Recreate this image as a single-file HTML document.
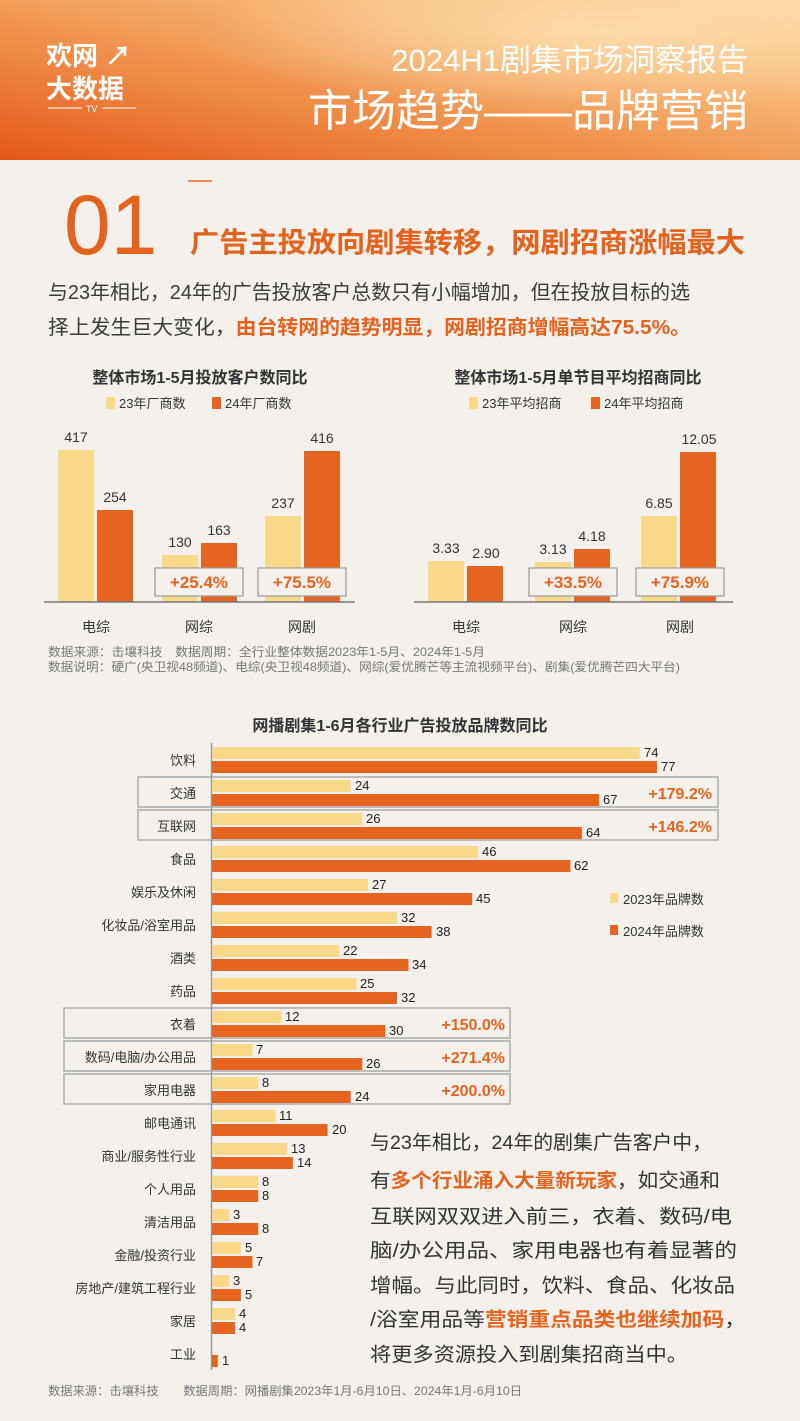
<!DOCTYPE html>
<html><head><meta charset="utf-8"><style>
html,body{margin:0;padding:0;background:#f4f0eb;}
svg{display:block;font-family:"Liberation Sans","Noto Sans CJK SC",sans-serif;}
</style></head><body>
<svg width="800" height="1421" viewBox="0 0 800 1421" xmlns="http://www.w3.org/2000/svg">
<defs>
<linearGradient id="hg" x1="0" y1="1" x2="1" y2="0">
<stop offset="0" stop-color="#e4571c"/><stop offset="0.35" stop-color="#ee8a45"/><stop offset="0.7" stop-color="#f7b674"/><stop offset="1" stop-color="#fbd6a0"/>
</linearGradient>
<radialGradient id="hl" cx="0.75" cy="0.2" r="0.5"><stop offset="0" stop-color="#fde3b5" stop-opacity="0.8"/><stop offset="1" stop-color="#fde3b5" stop-opacity="0"/></radialGradient>
</defs>
<rect width="800" height="1421" fill="#f4f0eb"/>
<rect width="800" height="160" fill="url(#hg)"/>
<rect width="800" height="160" fill="url(#hl)"/>
<text x="46" y="65" font-size="26" font-weight="bold" fill="#fff">欢网 ↗</text>
<text x="46" y="98" font-size="26" font-weight="bold" fill="#fff">大数据</text>
<line x1="48" y1="108" x2="82" y2="108" stroke="#fff"/><line x1="102" y1="108" x2="136" y2="108" stroke="#fff"/>
<text x="86" y="112" font-size="9" fill="#fff">TV</text>
<text x="748" y="71" font-size="31" fill="#fff" text-anchor="end">2024H1剧集市场洞察报告</text>
<text x="748" y="126" font-size="44" fill="#fff" text-anchor="end">市场趋势——品牌营销</text>

<line x1="188" y1="181" x2="212" y2="181" stroke="#e2621e" stroke-width="1.5"/>
<text x="64" y="254" font-size="84" fill="#e2621e">01</text>
<text x="190" y="252" font-size="28" font-weight="bold" fill="#e2621e" textLength="555" lengthAdjust="spacingAndGlyphs">广告主投放向剧集转移，网剧招商涨幅最大</text>
<text x="48" y="299" font-size="20" fill="#3a3a3a" textLength="642" lengthAdjust="spacingAndGlyphs">与23年相比，24年的广告投放客户总数只有小幅增加，但在投放目标的选</text>
<text x="48" y="334" font-size="20" fill="#3a3a3a" textLength="643" lengthAdjust="spacingAndGlyphs">择上发生巨大变化，<tspan fill="#e2621e" font-weight="bold">由台转网的趋势明显，网剧招商增幅高达75.5%。</tspan></text>

<!-- left chart -->
<text x="200" y="383" font-size="16" font-weight="bold" fill="#333" text-anchor="middle">整体市场1-5月投放客户数同比</text>
<rect x="106" y="397" width="9" height="12" fill="#f8d98a"/><text x="119" y="408" font-size="13" fill="#333">23年厂商数</text>
<rect x="212" y="397" width="9" height="12" fill="#e5641f"/><text x="225" y="408" font-size="13" fill="#333">24年厂商数</text>
<rect x="58" y="450" width="36" height="152" fill="#f8d98a"/><rect x="97" y="510" width="36" height="92" fill="#e5641f"/>
<rect x="162" y="555" width="36" height="47" fill="#f8d98a"/><rect x="201" y="543" width="36" height="59" fill="#e5641f"/>
<rect x="265" y="516" width="36" height="86" fill="#f8d98a"/><rect x="304" y="451" width="36" height="151" fill="#e5641f"/>
<g font-size="14" fill="#333" text-anchor="middle">
<text x="76" y="442">417</text><text x="115" y="502">254</text>
<text x="180" y="547">130</text><text x="219" y="535">163</text>
<text x="283" y="508">237</text><text x="322" y="443">416</text>
</g>
<line x1="44" y1="602" x2="355" y2="602" stroke="#777" stroke-width="1.5"/>
<rect x="155" y="568" width="88" height="28" fill="#f4f0eb" stroke="#999" stroke-width="1.2"/>
<rect x="258" y="568" width="88" height="28" fill="#f4f0eb" stroke="#999" stroke-width="1.2"/>
<g font-size="17" font-weight="bold" fill="#e5641f" text-anchor="middle"><text x="199" y="588">+25.4%</text><text x="302" y="588">+75.5%</text></g>
<g font-size="14" fill="#333" text-anchor="middle"><text x="96" y="632">电综</text><text x="199" y="632">网综</text><text x="302" y="632">网剧</text></g>

<!-- right chart -->
<text x="578" y="383" font-size="16" font-weight="bold" fill="#333" text-anchor="middle">整体市场1-5月单节目平均招商同比</text>
<rect x="469" y="397" width="9" height="12" fill="#f8d98a"/><text x="482" y="408" font-size="13" fill="#333">23年平均招商</text>
<rect x="591" y="397" width="9" height="12" fill="#e5641f"/><text x="604" y="408" font-size="13" fill="#333">24年平均招商</text>
<rect x="428" y="561" width="36" height="41" fill="#f8d98a"/><rect x="467" y="566" width="36" height="36" fill="#e5641f"/>
<rect x="535" y="562" width="36" height="40" fill="#f8d98a"/><rect x="574" y="549" width="36" height="53" fill="#e5641f"/>
<rect x="641" y="516" width="36" height="86" fill="#f8d98a"/><rect x="680" y="452" width="36" height="150" fill="#e5641f"/>
<g font-size="14" fill="#333" text-anchor="middle">
<text x="446" y="553">3.33</text><text x="486" y="558">2.90</text>
<text x="553" y="554">3.13</text><text x="592" y="541">4.18</text>
<text x="659" y="508">6.85</text><text x="699" y="444">12.05</text>
</g>
<line x1="414" y1="602" x2="733" y2="602" stroke="#777" stroke-width="1.5"/>
<rect x="529" y="568" width="88" height="28" fill="#f4f0eb" stroke="#999" stroke-width="1.2"/>
<rect x="636" y="568" width="88" height="28" fill="#f4f0eb" stroke="#999" stroke-width="1.2"/>
<g font-size="17" font-weight="bold" fill="#e5641f" text-anchor="middle"><text x="573" y="588">+33.5%</text><text x="680" y="588">+75.9%</text></g>
<g font-size="14" fill="#333" text-anchor="middle"><text x="466" y="632">电综</text><text x="573" y="632">网综</text><text x="680" y="632">网剧</text></g>

<g font-size="12" fill="#777"><text x="48" y="656" textLength="437" lengthAdjust="spacingAndGlyphs">数据来源：击壤科技　数据周期：全行业整体数据2023年1-5月、2024年1-5月</text>
<text x="48" y="671" textLength="632" lengthAdjust="spacingAndGlyphs">数据说明：硬广(央卫视48频道)、电综(央卫视48频道)、网综(爱优腾芒等主流视频平台)、剧集(爱优腾芒四大平台)</text></g>

<!-- bottom chart -->
<text x="400" y="731" font-size="16" font-weight="bold" fill="#333" text-anchor="middle">网播剧集1-6月各行业广告投放品牌数同比</text>
<g fill="none" stroke="#aaa" stroke-width="1.5">
<rect x="138" y="777" width="580" height="30"/><rect x="138" y="810" width="580" height="30"/>
<rect x="64" y="1008" width="446" height="30"/><rect x="64" y="1041" width="446" height="30"/><rect x="64" y="1074" width="446" height="30"/>
</g>
<line x1="211.5" y1="743" x2="211.5" y2="1370" stroke="#999" stroke-width="1.5"/>
<g font-size="13" fill="#333" text-anchor="end">
<text x="196" y="765">饮料</text><text x="196" y="798">交通</text><text x="196" y="831">互联网</text><text x="196" y="864">食品</text>
<text x="196" y="897">娱乐及休闲</text><text x="196" y="930">化妆品/浴室用品</text><text x="196" y="963">酒类</text><text x="196" y="996">药品</text>
<text x="196" y="1029">衣着</text><text x="196" y="1062">数码/电脑/办公用品</text><text x="196" y="1095">家用电器</text><text x="196" y="1128">邮电通讯</text>
<text x="196" y="1161">商业/服务性行业</text><text x="196" y="1194">个人用品</text><text x="196" y="1227">清洁用品</text><text x="196" y="1260">金融/投资行业</text>
<text x="196" y="1293">房地产/建筑工程行业</text><text x="196" y="1326">家居</text><text x="196" y="1359">工业</text>
</g>
<g fill="#f8d98a">
<rect x="212" y="747" width="427.7" height="12"/><rect x="212" y="780" width="138.7" height="12"/><rect x="212" y="813" width="150.3" height="12"/><rect x="212" y="846" width="265.9" height="12"/>
<rect x="212" y="879" width="156.1" height="12"/><rect x="212" y="912" width="185" height="12"/><rect x="212" y="945" width="127.2" height="12"/><rect x="212" y="978" width="144.5" height="12"/>
<rect x="212" y="1011" width="69.4" height="12"/><rect x="212" y="1044" width="40.5" height="12"/><rect x="212" y="1077" width="46.2" height="12"/><rect x="212" y="1110" width="63.6" height="12"/>
<rect x="212" y="1143" width="75.1" height="12"/><rect x="212" y="1176" width="46.2" height="12"/><rect x="212" y="1209" width="17.3" height="12"/><rect x="212" y="1242" width="28.9" height="12"/>
<rect x="212" y="1275" width="17.3" height="12"/><rect x="212" y="1308" width="23.1" height="12"/>
</g>
<g fill="#e5641f">
<rect x="212" y="761" width="445" height="12"/><rect x="212" y="794" width="387.3" height="12"/><rect x="212" y="827" width="369.9" height="12"/><rect x="212" y="860" width="358.4" height="12"/>
<rect x="212" y="893" width="260.1" height="12"/><rect x="212" y="926" width="219.6" height="12"/><rect x="212" y="959" width="196.5" height="12"/><rect x="212" y="992" width="185" height="12"/>
<rect x="212" y="1025" width="173.4" height="12"/><rect x="212" y="1058" width="150.3" height="12"/><rect x="212" y="1091" width="138.7" height="12"/><rect x="212" y="1124" width="115.6" height="12"/>
<rect x="212" y="1157" width="80.9" height="12"/><rect x="212" y="1190" width="46.2" height="12"/><rect x="212" y="1223" width="46.2" height="12"/><rect x="212" y="1256" width="40.5" height="12"/>
<rect x="212" y="1289" width="28.9" height="12"/><rect x="212" y="1322" width="23.1" height="12"/><rect x="212" y="1355" width="5.8" height="12"/>
</g>
<g font-size="13" fill="#222">
<text x="644" y="757">74</text><text x="661" y="771">77</text>
<text x="355" y="790">24</text><text x="603" y="804">67</text>
<text x="366" y="823">26</text><text x="586" y="837">64</text>
<text x="482" y="856">46</text><text x="574" y="870">62</text>
<text x="372" y="889">27</text><text x="476" y="903">45</text>
<text x="401" y="922">32</text><text x="436" y="936">38</text>
<text x="343" y="955">22</text><text x="412" y="969">34</text>
<text x="360" y="988">25</text><text x="401" y="1002">32</text>
<text x="285" y="1021">12</text><text x="389" y="1035">30</text>
<text x="256" y="1054">7</text><text x="366" y="1068">26</text>
<text x="262" y="1087">8</text><text x="355" y="1101">24</text>
<text x="279" y="1120">11</text><text x="332" y="1134">20</text>
<text x="291" y="1153">13</text><text x="297" y="1167">14</text>
<text x="262" y="1186">8</text><text x="262" y="1200">8</text>
<text x="233" y="1219">3</text><text x="262" y="1233">8</text>
<text x="245" y="1252">5</text><text x="256" y="1266">7</text>
<text x="233" y="1285">3</text><text x="245" y="1299">5</text>
<text x="239" y="1318">4</text><text x="239" y="1332">4</text>
<text x="222" y="1365">1</text>
</g>
<g font-size="16" font-weight="bold" fill="#e5641f" text-anchor="end">
<text x="712" y="799">+179.2%</text><text x="712" y="832">+146.2%</text>
<text x="505" y="1030">+150.0%</text><text x="505" y="1063">+271.4%</text><text x="505" y="1096">+200.0%</text>
</g>
<rect x="610" y="893" width="8" height="10" fill="#f8d98a"/><text x="623" y="904" font-size="13" fill="#333">2023年品牌数</text>
<rect x="610" y="925" width="8" height="10" fill="#e5641f"/><text x="623" y="936" font-size="13" fill="#333">2024年品牌数</text>

<g font-size="19.5" fill="#333" lengthAdjust="spacingAndGlyphs">
<text x="370" y="1149" textLength="342" lengthAdjust="spacingAndGlyphs">与23年相比，24年的剧集广告客户中，</text>
<text x="370" y="1187" textLength="350" lengthAdjust="spacingAndGlyphs">有<tspan fill="#e5641f" font-weight="bold">多个行业涌入大量新玩家</tspan>，如交通和</text>
<text x="370" y="1223" textLength="362" lengthAdjust="spacingAndGlyphs">互联网双双进入前三，衣着、数码/电</text>
<text x="370" y="1257" textLength="367" lengthAdjust="spacingAndGlyphs">脑/办公用品、家用电器也有着显著的</text>
<text x="370" y="1292" textLength="365" lengthAdjust="spacingAndGlyphs">增幅。与此同时，饮料、食品、化妆品</text>
<text x="370" y="1326" textLength="376" lengthAdjust="spacingAndGlyphs">/浴室用品等<tspan fill="#e5641f" font-weight="bold">营销重点品类也继续加码</tspan>，</text>
<text x="370" y="1361" textLength="318" lengthAdjust="spacingAndGlyphs">将更多资源投入到剧集招商当中。</text>
</g>
<text x="48" y="1395" font-size="12" fill="#777" textLength="474" lengthAdjust="spacingAndGlyphs">数据来源：击壤科技　　数据周期：网播剧集2023年1月-6月10日、2024年1月-6月10日</text>
</svg>
</body></html>
